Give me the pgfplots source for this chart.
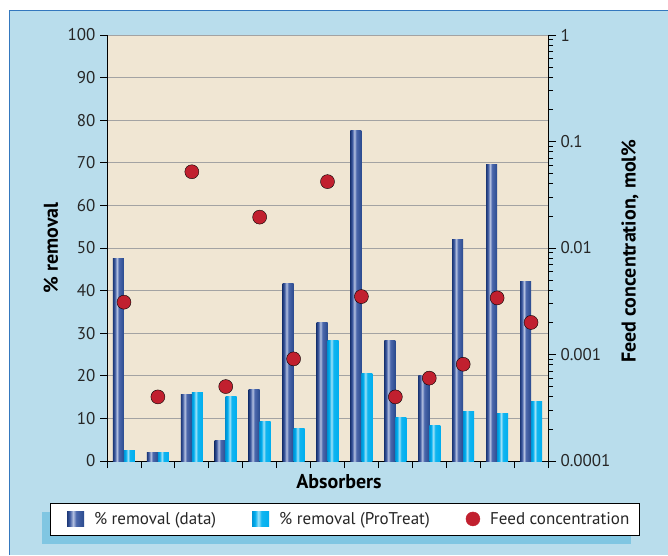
\documentclass[border=0pt]{standalone}
\usepackage{fontspec}
\setmainfont{PT Sans}
\usepackage{pgfplots}
\pgfplotsset{compat=1.18}
\definecolor{bgblue}{HTML}{B9DDEC}
\definecolor{shadowblue}{HTML}{80C6E2}
\definecolor{plotbg}{HTML}{F0E6D3}
\definecolor{gridgray}{HTML}{A3A3A3}
\definecolor{dotred}{HTML}{C1202F}
\definecolor{borderblue}{HTML}{3478BE}
\definecolor{nvA}{HTML}{1D3877}
\definecolor{nvB}{HTML}{3F5BA0}
\definecolor{nvL}{HTML}{B3C0E0}
\definecolor{nvC}{HTML}{4C68AC}
\definecolor{nvD}{HTML}{2A4A8E}
\definecolor{cyA}{HTML}{0096D6}
\definecolor{cyB}{HTML}{00AEEF}
\definecolor{cyL}{HTML}{A0E2F8}
\definecolor{cyC}{HTML}{10B5F0}
\pgfdeclarehorizontalshading{navybar}{100bp}{color(0bp)=(nvA); color(25bp)=(nvA); color(33bp)=(nvB); color(43bp)=(nvL); color(52bp)=(nvC); color(75bp)=(nvD); color(100bp)=(nvD)}
\pgfdeclarehorizontalshading{cyanbar}{100bp}{color(0bp)=(cyA); color(25bp)=(cyA); color(33bp)=(cyB); color(43bp)=(cyL); color(52bp)=(cyC); color(75bp)=(cyB); color(100bp)=(cyB)}

\pgfplotstableread{
x data protreat feed
0 47.5 2.5 0.0031
1 2.0 2.0 0.0004
2 15.5 16.0 0.052
3 4.8 15.2 0.0005
4 16.8 9.2 0.0195
5 41.7 7.6 0.00091
6 32.5 28.3 0.042
7 77.5 20.5 0.0035
8 28.2 10.2 0.0004
9 20.0 8.4 0.0006
10 52.0 11.7 0.00081
11 69.5 11.2 0.0034
12 42.2 14.0 0.002
}\absorbers

\pgfplotsset{
  barimg/.style={legend image code/.code={\path[##1] (0pt,-7pt) rectangle (17pt,8pt);}},
  databar/.style={ybar, bar width=11pt, bar shift=-5.5pt, shading=navybar, draw=none, forget plot},
  protbar/.style={ybar, bar width=11pt, bar shift=5.5pt, shading=cyanbar, draw=none, forget plot},
}

\begin{document}
\begin{tikzpicture}[x=1pt,y=1pt]
\useasboundingbox (0,0) rectangle (668,555);
\fill[white] (0,0) rectangle (668,555);
\fill[bgblue] (9,0) rectangle (668,544.5);
\draw[borderblue, line width=1pt] (9.5,0) -- (9.5,544.2) -- (668,544.2);
\fill[shadowblue] (42,11) rectangle (631,43);
\draw[black, line width=0.8pt, fill=white] (50,20) rectangle (639,52);

\begin{axis}[
  at={(107pt,94pt)}, anchor=south west,
  scale only axis, width=441pt, height=426pt,
  xmin=-0.5, xmax=12.5, ymin=0, ymax=100,
  axis background/.style={fill=plotbg},
  axis x line*=bottom, axis y line*=left,
  xtick={-0.5,0.5,...,12.5}, xticklabels={},
  ytick={0,10,...,100},
  ymajorgrids, grid style={gridgray, line width=0.9pt},
  tick align=outside, major tick length=7pt,
  tick style={black, line width=0.8pt},
  axis line style={black, line width=0.8pt},
  /pgf/number format/assume math mode=true,
  tick label style={font=\fontsize{17}{19}\selectfont, text=black!85},
  yticklabel style={xshift=-1pt},
  xlabel={Absorbers},
  xlabel style={at={(axis description cs:0.526,0)}, anchor=center, yshift=-21pt, font=\bfseries\fontsize{20}{24}\selectfont},
  ylabel={\% removal},
  ylabel style={at={(axis description cs:-0.127,0.5)}, anchor=center, font=\bfseries\fontsize{20}{24}\selectfont},
  legend columns=3,
  legend style={at={(axis description cs:-0.0907,-0.136)}, anchor=west, draw=none, fill=none,
    inner sep=0pt, outer sep=0pt, nodes={inner sep=0pt, text=black!85},
    font=\fontsize{17}{19}\selectfont,
    /tikz/every odd column/.append style={column sep=10pt},
    /tikz/every even column/.append style={column sep=36pt}},
]
\pgfplotsinvokeforeach{0,...,12}{
  \addplot[databar] table[x=x, y=data, restrict expr to domain={\coordindex}{#1:#1}] {\absorbers};
  \addplot[protbar] table[x=x, y=protreat, restrict expr to domain={\coordindex}{#1:#1}] {\absorbers};
}
\addlegendimage{barimg, shading=navybar, draw=none}
\addlegendentry{\% removal (data)}
\addlegendimage{barimg, shading=cyanbar, draw=none}
\addlegendentry{\% removal (ProTreat)}
\addlegendimage{legend image code/.code={\fill[dotred] (7pt,0.5pt) circle (7pt);}}
\addlegendentry{Feed concentration}
\end{axis}

\begin{axis}[
  at={(107pt,94pt)}, anchor=south west,
  scale only axis, width=441pt, height=426pt,
  xmin=-0.5, xmax=12.5,
  ymode=log, ymin=1e-4, ymax=1,
  axis x line=none, axis y line*=right,
  ytick={1e-4,1e-3,1e-2,1e-1,1},
  yticklabels={0.0001,0.001,0.01,0.1,1},
  tick align=outside, major tick length=8pt, minor tick length=5pt,
  tick style={black, line width=0.8pt},
  axis line style={black, line width=0.8pt},
  tick label style={font=\fontsize{17}{19}\selectfont, text=black!85},
  yticklabel style={xshift=1pt},
  ylabel={Feed concentration, mol\%},
  ylabel style={at={(axis description cs:1.186,0.493)}, anchor=center, font=\bfseries\fontsize{20}{24}\selectfont},
]
\addplot[only marks, mark=*, mark size=7pt, mark options={fill=dotred, draw=none}] table[x=x, y=feed] {\absorbers};
\end{axis}
\end{tikzpicture}
\end{document}
